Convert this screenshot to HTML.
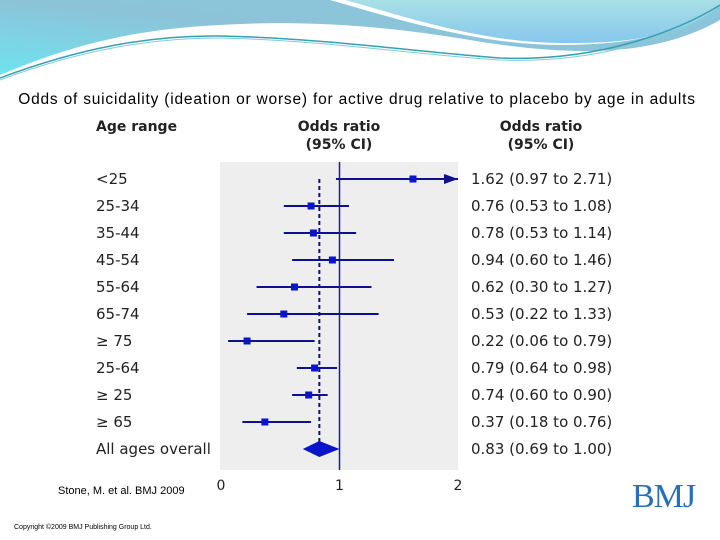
<!DOCTYPE html>
<html><head><meta charset="utf-8"><style>
body{margin:0;width:720px;height:540px;overflow:hidden;background:#fff;font-family:"Liberation Sans",sans-serif;position:relative}
.t{position:absolute;white-space:nowrap}
</style></head><body>
<svg style="position:absolute;left:0;top:0" width="720" height="90">
<defs><linearGradient id="g1" x1="0" y1="1" x2="1" y2="0"><stop offset="0" stop-color="#6fe3ee"/><stop offset="0.5" stop-color="#8cc3d9"/><stop offset="1" stop-color="#8cc6dc"/></linearGradient>
<linearGradient id="g2" x1="0" y1="0" x2="0" y2="1"><stop offset="0" stop-color="#a9e0e6"/><stop offset="1" stop-color="#86c7ec"/></linearGradient></defs>
<path d="M0,0 H720 V20 C650,60 560,55 470,40 C380,25 300,20 220,25 C120,30 60,50 0,75 Z" fill="url(#g1)"/>
<path d="M330,0 H720 V5 C690,30 640,45 560,45 C480,45 400,20 330,0 Z" fill="#fff"/>
<path d="M345,0 H720 V5 C690,32 640,44 560,43 C480,42 410,18 345,0 Z" fill="url(#g2)"/>
<path d="M0,78 C80,48 150,35 220,36 C320,38 420,52 500,58 C600,62 680,30 720,5" stroke="#3a9fb0" stroke-width="1.5" fill="none"/>
<path d="M0,80 C80,50 150,38 220,38 C320,40 420,55 500,60 C600,64 680,34 720,10" stroke="#7fd0da" stroke-width="1" fill="none"/>
</svg>
<div class="t" style="left:0;width:714px;text-align:center;top:91px;font-size:15.5px;letter-spacing:0.8px;color:#000">Odds of suicidality (ideation or worse) for active drug relative to placebo by age in adults</div>
<svg id="c" style="position:absolute;left:0;top:0" width="720" height="540" font-family="'DejaVu Sans',sans-serif">
<rect x="220" y="162" width="238" height="308" fill="#eeeeee"/>
<text x="96" y="131" font-size="14" font-weight="bold" fill="#222">Age range</text>
<text x="339" y="131" font-size="14" font-weight="bold" fill="#222" text-anchor="middle">Odds ratio</text>
<text x="339" y="149" font-size="14" font-weight="bold" fill="#222" text-anchor="middle">(95% CI)</text>
<text x="541" y="131" font-size="14" font-weight="bold" fill="#222" text-anchor="middle">Odds ratio</text>
<text x="541" y="149" font-size="14" font-weight="bold" fill="#222" text-anchor="middle">(95% CI)</text>
<g id="marks"></g>
</svg>
<div class="t" style="left:58px;top:485px;font-size:11px">Stone, M. et al. BMJ 2009</div>
<div class="t" style="left:14px;top:524px;font-size:7px">Copyright ©2009 BMJ Publishing Group Ltd.</div>
<div class="t" style="left:632px;top:478px;font-size:34px;font-family:'Liberation Serif',serif;color:#2a6fb5;letter-spacing:-1px">BMJ</div>
<script>
const categories=["<25","25-34","35-44","45-54","55-64","65-74","≥ 75","25-64","≥ 25","≥ 65","All ages overall"];
const orValues=[1.62,0.76,0.78,0.94,0.62,0.53,0.22,0.79,0.74,0.37,0.83];
const lowerCI=[0.97,0.53,0.53,0.60,0.30,0.22,0.06,0.64,0.60,0.18,0.69];
const upperCI=[2.71,1.08,1.14,1.46,1.27,1.33,0.79,0.98,0.90,0.76,1.00];
const xTicks=[0,1,2];
const NS="http://www.w3.org/2000/svg";
const x=v=>221+v*118.5, y=i=>179+i*27;
const g=document.getElementById('marks');
function mk(t,a){const e=document.createElementNS(NS,t);for(const k in a)e.setAttribute(k,a[k]);g.appendChild(e);return e;}
let e=mk('line',{x1:x(1),x2:x(1),y1:162,y2:470,stroke:'#1a1aa0','stroke-width':1.5});


const last=orValues.length-1;
e=mk('line',{x1:x(orValues[last]),x2:x(orValues[last]),y1:y(0),y2:y(last),stroke:'#10107a','stroke-width':2,'stroke-dasharray':'4,3'});


xTicks.forEach(t=>{const tx=mk('text',{x:x(t),y:490,'font-size':14,'text-anchor':'middle',fill:'#222'});tx.textContent=t;

});
categories.forEach((c,i)=>{
 const yy=y(i);
 let l=mk('text',{x:96,y:yy+5,'font-size':15,fill:'#222'});l.textContent=c;
 
 
 let r=mk('text',{x:471,y:yy+5,'font-size':15,fill:'#222'});
 r.textContent=orValues[i].toFixed(2)+' (' +lowerCI[i].toFixed(2)+' to '+upperCI[i].toFixed(2)+')';
 
 
 if(i===last){
  const d=mk('polygon',{points:`${x(lowerCI[i])},${yy} ${x(orValues[i])},${yy-8} ${x(upperCI[i])},${yy} ${x(orValues[i])},${yy+8}`,fill:'#0a14c8'});
  
  
  return;
 }
 const hi=Math.min(upperCI[i],2);
 const ln=mk('line',{x1:x(lowerCI[i]),x2:x(hi),y1:yy,y2:yy,stroke:'#10108a','stroke-width':2});
 
 
 if(upperCI[i]>2){const a=mk('polygon',{points:`${x(2)},${yy} ${x(2)-14},${yy-5} ${x(2)-14},${yy+5}`,fill:'#10108a'});
  
  }
 const s=mk('rect',{x:x(orValues[i])-3.5,y:yy-3.5,width:7,height:7,fill:'#0a14c8'});
 
 
});
</script>
</body></html>
